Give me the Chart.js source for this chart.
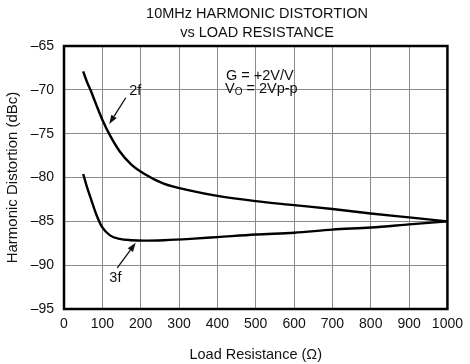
<!DOCTYPE html>
<html>
<head>
<meta charset="utf-8">
<script src="https://cdn.jsdelivr.net/npm/chart.js@4"></script>
<style>
  html, body { margin: 0; padding: 0; background: #fff; }
  #wrap { width: 470px; height: 364px; }
</style>
</head>
<body>
<div id="wrap"><canvas id="chart"></canvas></div>
<script>
// Load resistance (ohms) and harmonic distortion (dBc)
const resistance = [50, 60, 70, 85, 100, 120, 145, 175, 210, 260, 330, 400, 500, 600, 700, 800, 900, 1000];
const hd2 = [-67.9, -69.1, -70.1, -71.8, -73.4, -75.2, -77.0, -78.5, -79.6, -80.7, -81.5, -82.1, -82.7, -83.15, -83.6, -84.1, -84.55, -85.0];
const hd3 = [-79.6, -81.1, -82.4, -84.3, -85.7, -86.6, -87.0, -87.15, -87.2, -87.15, -87.0, -86.8, -86.5, -86.3, -85.95, -85.7, -85.35, -85.0];

const titleLines = ['10MHz HARMONIC DISTORTION', 'vs LOAD RESISTANCE'];
const xTitle = 'Load Resistance (\u03A9)';
const yTitle = 'Harmonic Distortion (dBc)';

const FONT = '"Liberation Sans", Arial, Helvetica, sans-serif';
const INK = '#111';

const toPoints = (xs, ys) => xs.map((x, i) => ({ x: x, y: ys[i] }));

// frame, heading, x title, notes and arrows
const decorations = {
  id: 'decorations',
  afterDraw(chart) {
    const ctx = chart.ctx;
    const a = chart.chartArea;
    const xs = chart.scales.x, ys = chart.scales.y;
    ctx.save();

    ctx.strokeStyle = '#000';
    ctx.lineWidth = 2.5;
    ctx.strokeRect(a.left, a.top, a.right - a.left, a.bottom - a.top);

    ctx.fillStyle = INK;
    ctx.font = '14.5px ' + FONT;
    ctx.textAlign = 'center';
    ctx.textBaseline = 'middle';
    ctx.fillText(titleLines[0], 257, 13.5);
    ctx.fillText(titleLines[1], 257, 32.5);
    ctx.fillText(xTitle, (a.left + a.right) / 2, 355);

    // conditions
    ctx.textAlign = 'left';
    ctx.fillText('G = +2V/V', 226, 76);
    ctx.fillText('V', 225, 88.5);
    const vw = ctx.measureText('V').width;
    ctx.font = '10px ' + FONT;
    ctx.fillText('O', 225 + vw, 92);
    const ow = ctx.measureText('O').width;
    ctx.font = '14.5px ' + FONT;
    ctx.fillText(' = 2Vp-p', 225 + vw + ow, 88.5);

    // curve labels with arrows
    ctx.textAlign = 'center';
    ctx.fillText('2f', xs.getPixelForValue(186), ys.getPixelForValue(-70.1));
    ctx.fillText('3f', xs.getPixelForValue(134), ys.getPixelForValue(-91.5));
    arrow(ctx, xs.getPixelForValue(161), ys.getPixelForValue(-70.9),
               xs.getPixelForValue(118), ys.getPixelForValue(-73.9));
    arrow(ctx, xs.getPixelForValue(139), ys.getPixelForValue(-90.3),
               xs.getPixelForValue(187), ys.getPixelForValue(-87.45));
    ctx.restore();
  }
};

function arrow(ctx, x1, y1, x2, y2) {
  const ang = Math.atan2(y2 - y1, x2 - x1);
  const len = 9, half = 3.2;
  const bx = x2 - len * Math.cos(ang), by = y2 - len * Math.sin(ang);
  ctx.strokeStyle = INK;
  ctx.lineWidth = 1.3;
  ctx.beginPath();
  ctx.moveTo(x1, y1);
  ctx.lineTo(bx, by);
  ctx.stroke();
  ctx.beginPath();
  ctx.moveTo(x2, y2);
  ctx.lineTo(bx + half * Math.sin(ang), by - half * Math.cos(ang));
  ctx.lineTo(bx - half * Math.sin(ang), by + half * Math.cos(ang));
  ctx.closePath();
  ctx.fill();
}

new Chart(document.getElementById('chart'), {
  type: 'line',
  data: {
    datasets: [
      { label: '2f', data: toPoints(resistance, hd2) },
      { label: '3f', data: toPoints(resistance, hd3) }
    ]
  },
  options: {
    responsive: true,
    maintainAspectRatio: false,
    animation: false,
    layout: { padding: { top: 46, right: 15, left: 0, bottom: 0 } },
    elements: {
      line: { borderColor: '#000', borderWidth: 2.4, cubicInterpolationMode: 'monotone', fill: false },
      point: { radius: 0 }
    },
    plugins: {
      legend: { display: false },
      tooltip: { enabled: false }
    },
    scales: {
      x: {
        type: 'linear',
        min: 0, max: 1000,
        afterFit(scale) { scale.height = 55; },
        grid: { color: '#8a8a8a', lineWidth: 1, drawTicks: false },
        border: { display: false },
        ticks: {
          stepSize: 100, padding: 7, color: INK, font: { family: FONT, size: 14 },
          callback: v => String(v)
        },
        title: { display: false }
      },
      y: {
        min: -95, max: -65,
        afterFit(scale) { scale.width = 64; },
        grid: { color: '#8a8a8a', lineWidth: 1, drawTicks: false },
        border: { display: false },
        ticks: {
          stepSize: 5, padding: 10, color: INK, font: { family: FONT, size: 14 },
          callback: v => String(v).replace('-', '\u2013')
        },
        title: { display: true, text: yTitle, color: INK, font: { family: FONT, size: 15 }, padding: { top: 4, bottom: 4 } }
      }
    }
  },
  plugins: [decorations]
});
</script>
</body>
</html>
